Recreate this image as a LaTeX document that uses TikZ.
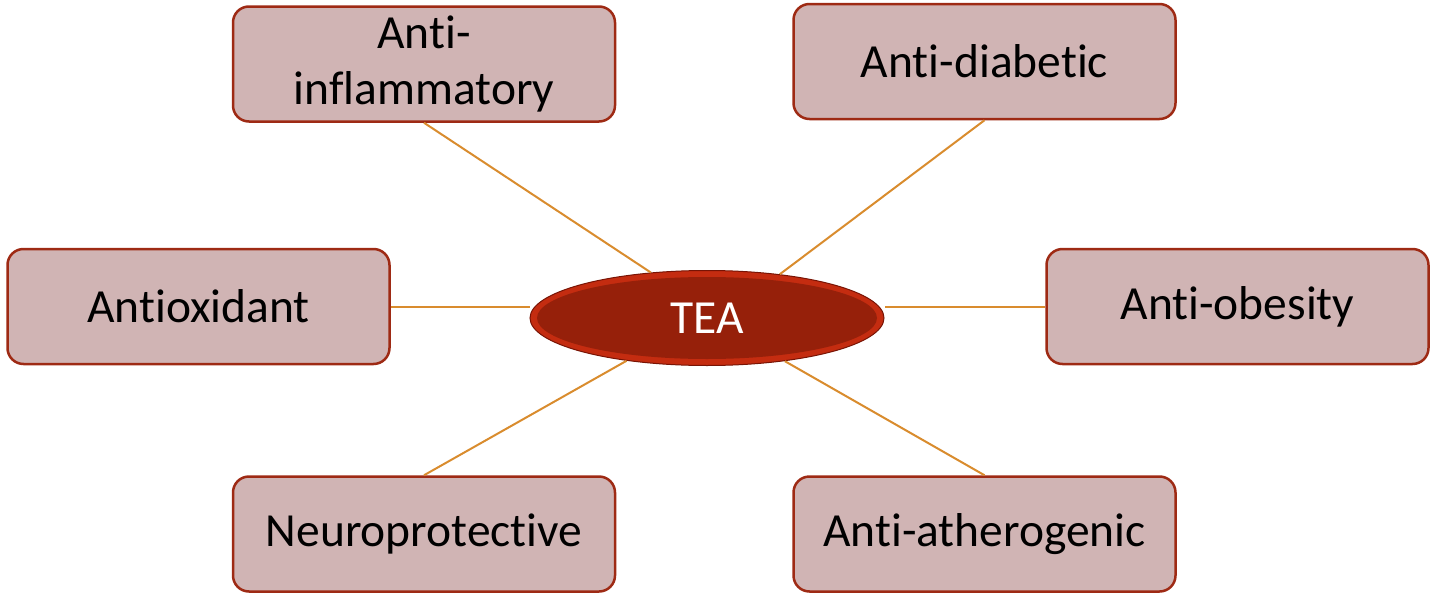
\documentclass[tikz,border=0pt]{standalone}
\usepackage{fontspec}
\setmainfont{Carlito}[RawFeature={-liga;-clig;-dlig}]
\usepackage{xcolor}
\usepackage{tikz}
\usetikzlibrary{shapes.geometric}
\definecolor{boxfill}{RGB}{208,180,180}
\definecolor{boxedge}{RGB}{158,42,20}
\definecolor{linkcol}{RGB}{217,140,46}
\definecolor{teafill}{RGB}{150,32,10}
\definecolor{tearim}{RGB}{196,44,16}
\definecolor{teaedge}{RGB}{120,20,5}
\tikzstyle{effbox} = [draw=boxedge, fill=boxfill, line width=2.5pt,
rectangle, rounded corners=16pt, minimum width=382pt, minimum height=115pt,
align=center, font=\fontsize{47.5}{56}\selectfont]
\tikzstyle{teanode} = [ellipse, draw=teaedge, fill=tearim, line width=1pt,
minimum width=354pt, minimum height=95pt, inner sep=0pt, text=white,
font=\fontsize{47.5}{56}\selectfont,
path picture={\fill[teafill] (path picture bounding box.center) ellipse (170pt and 41pt);}]
\tikzstyle{link} = [draw=linkcol, line width=2pt]

\begin{document}
\begin{tikzpicture}[x=1pt, y=-1pt]
        \useasboundingbox (0,0) rectangle (1430,597);
        \node [teanode] (tea) at (707,318) {TEA};
        \node [effbox] (inflam) at (424,64) {Anti-\\inflammatory};
        \node [effbox] (diab) at (984.5,61.5) {Anti-diabetic};
        \node [effbox] (oxid) at (198.5,306.5) {Antioxidant};
        \node [effbox] (obes) at (1237.5,306.5) {Anti-obesity};
        \node [effbox] (neuro) at (424,534) {Neuroprotective};
        \node [effbox] (ather) at (984.5,534) {Anti-atherogenic};
        % connectors
        \draw [link] (inflam.south) -- (tea.141);
        \draw [link] (diab.south) -- (tea.31);
        \draw [link] (oxid.east) -- (oxid.east -| tea.west);
        \draw [link] (obes.west) -- (obes.west -| tea.east);
        \draw [link] (neuro.north) -- (tea.208);
        \draw [link] (ather.north) -- (tea.331);
    \end{tikzpicture}
\end{document}
